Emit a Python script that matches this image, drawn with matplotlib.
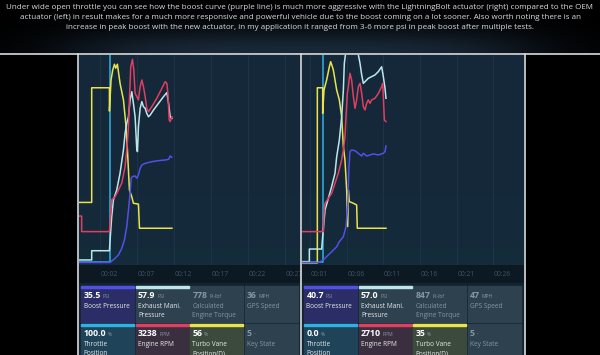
import numpy as np
import matplotlib
matplotlib.use("Agg")
import matplotlib.pyplot as plt
from matplotlib.patches import Rectangle

plt.rcParams['font.family'] = ['Open Sans', 'DejaVu Sans']

# --- caption ---
caption = ("Under wide open throttle you can see how the boost curve (purple line) is much more aggressive with the "
           "LightningBolt actuator (right) compared to the OEM\n"
           "actuator (left) in result makes for a much more responsive and powerful vehicle due to the boost coming "
           "on a lot sooner. Also worth noting there is an\n"
           "increase in peak boost with the new actuator, in my application it ranged from 3-6 more psi in peak "
           "boost after multiple tests.")

# --- left log (OEM actuator): time in s, value in % of graph height ---
L_vane_t = [-0.85, 0.87, 0.87, 3.27, 3.27, 3.49, 3.72, 3.95, 4.13, 4.35, 4.71, 5.17, 5.48, 5.71, 5.98, 6.30, 6.52, 7.20, 7.34, 11.73]
L_vane = [29.8, 29.8, 84.4, 84.4, 73.3, 88.1, 92.9, 95.6, 93.7, 95.6, 86.5, 78.6, 67.5, 54.8, 35.7, 32.5, 29.4, 29.0, 17.5, 17.5]

L_rpm_t = [-0.85, -0.49, -0.49, 3.27, 3.36, 3.58, 4.04, 4.49, 4.94, 5.39, 5.62, 5.85, 5.98, 6.16, 6.39, 6.57, 6.75, 6.98,
           7.20, 7.43, 7.66, 7.88, 8.11, 8.33, 8.56, 9.01, 9.69, 10.37, 10.82, 11.05, 11.19, 11.37, 11.50, 11.73]
L_rpm = [23.3, 23.3, 15.9, 15.9, 19.8, 31.0, 32.5, 35.7, 38.9, 46.8, 54.8, 65.9, 78.6, 94.4, 97.9, 92.9, 81.7, 80.2,
         78.6, 84.9, 88.1, 84.9, 80.2, 74.6, 73.0, 75.4, 79.4, 84.1, 87.3, 86.5, 81.7, 69.0, 68.3, 70.6]

L_emp_t = [-0.85, 0.87, 0.87, 3.27, 3.36, 3.58, 3.81, 4.26, 4.71, 5.17, 5.39, 5.62, 5.85, 6.07, 6.30, 6.52, 6.75, 6.98,
           7.07, 7.20, 7.43, 7.66, 7.88, 8.11, 8.33, 8.56, 8.79, 9.24, 9.92, 10.60, 11.05, 11.28, 11.50, 11.73]
L_emp = [2.4, 2.4, 6.8, 6.8, 11.9, 23.0, 31.0, 35.7, 43.7, 54.8, 62.7, 67.5, 70.6, 78.6, 82.5, 77.0, 70.6, 54.8,
         54.0, 65.9, 74.6, 77.8, 75.4, 74.6, 72.2, 70.6, 71.4, 73.8, 77.0, 80.2, 82.1, 77.0, 70.6, 69.8]

L_boost_t = [-0.85, 3.36, 4.04, 4.49, 4.94, 5.30, 5.62, 5.85, 6.07, 6.21, 6.39, 6.75, 6.98, 7.20, 7.43, 7.66, 8.11,
             9.01, 9.92, 10.82, 11.28, 11.50, 11.73]
L_boost = [1.2, 1.2, 3.2, 4.8, 7.9, 11.9, 18.3, 26.2, 34.1, 41.3, 42.1, 42.4, 41.3, 42.9, 46.0, 47.6, 48.4,
           49.2, 49.7, 50.0, 50.3, 51.9, 51.3]

L_tps_t = [-0.85, 3.36, 3.36, 11.73]
L_tps = [1.4, 1.4, 100.5, 100.5]

# --- right log (LightningBolt actuator) ---
R_vane_t = [-0.09, 2.0, 2.0, 2.73, 2.73, 2.91, 3.27, 3.64, 3.82, 4.05, 4.18, 4.64, 5.0, 5.32, 5.55, 5.77, 6.0, 6.14,
            6.23, 6.36, 6.91, 7.36, 7.45, 11.36]
R_vane = [1.0, 1.0, 84.4, 84.4, 72.2, 83.3, 88.1, 94.4, 96.8, 94.4, 92.9, 83.3, 78.6, 70.6, 56.3, 50.0, 35.7, 18.3,
          35.7, 30.2, 29.4, 28.6, 17.5, 17.5]

R_rpm_t = [-0.09, 2.82, 2.91, 3.05, 3.5, 3.95, 4.41, 4.86, 5.32, 5.55, 5.77, 5.91, 6.09, 6.23, 6.45, 6.68, 6.91, 7.14,
           7.36, 7.59, 7.82, 8.05, 8.27, 8.5, 8.73, 8.95, 9.18, 9.41, 9.86, 10.32, 10.77, 10.91, 11.0, 11.14, 11.36]
R_rpm = [15.9, 15.9, 24.6, 29.4, 31.7, 34.1, 38.9, 43.7, 50.0, 54.8, 61.1, 70.6, 81.7, 84.9, 91.3, 88.1, 80.2, 74.6,
         78.6, 84.9, 86.5, 81.7, 75.4, 73.8, 77.0, 78.6, 77.0, 78.6, 79.4, 81.7, 84.9, 86.5, 80.2, 69.0, 68.3]

R_emp_t = [-0.09, 0.91, 0.91, 2.59, 2.73, 3.05, 3.5, 3.95, 4.41, 4.64, 5.0, 5.32, 5.55, 5.68, 5.91, 7.36, 7.59, 7.82,
           8.05, 8.27, 8.5, 8.95, 9.41, 9.86, 10.32, 10.77, 11.0, 11.23, 11.36]
R_emp = [1.6, 1.6, 7.6, 7.6, 13.5, 26.2, 31.7, 37.3, 43.7, 51.6, 59.5, 70.6, 83.3, 96.0, 102.4, 102.4, 100.2, 96.0,
         90.5, 86.5, 87.3, 88.9, 89.7, 90.5, 92.1, 94.4, 89.7, 84.1, 79.4]

R_boost_t = [-0.09, 2.14, 2.82, 3.27, 3.95, 4.64, 5.0, 5.55, 5.91, 6.14, 6.32, 6.45, 6.68, 7.14, 7.59, 8.05, 8.27,
             8.73, 9.18, 9.64, 10.32, 11.0, 11.23, 11.36]
R_boost = [1.2, 1.2, 2.4, 4.0, 6.3, 8.7, 11.1, 13.5, 18.3, 27.8, 46.8, 54.0, 54.8, 54.4, 53.2, 51.9, 53.2,
           51.9, 52.4, 52.9, 52.4, 53.2, 54.0, 56.7]

R_tps_t = [-0.09, 2.82, 2.82, 11.36]
R_tps = [1.4, 1.4, 100.5, 100.5]

# tick seconds
L_ticks = [2, 7, 12, 17, 22, 27]
R_ticks = [1, 6, 11, 16, 21, 26]

# gauge tiles
tile_names = ["Boost Pressure", "Exhaust Mani.\nPressure", "Calculated\nEngine Torque", "GPS Speed",
              "Throttle\nPosition", "Engine RPM", "Turbo Vane\nPosition(D)", "Key State"]
tile_units = ["PSI", "PSI", "Ft-lbf", "MPH", "%", "RPM", "%", "-"]
L_tile_vals = ["35.5", "57.9", "778", "36", "100.0", "3238", "56", "5"]
R_tile_vals = ["40.7", "57.0", "847", "47", "0.0", "2710", "35", "5"]

# --- colours ---
C_BOOST = "#5151e6"
C_EMP = "#bde6ea"
C_RPM = "#df3f60"
C_VANE = "#e9e34c"
C_TPS = "#2eb2e2"
tile_bg = ["#2b2e66", "#2e414f", "#2e414f", "#2e414f", "#1f4359", "#3a2f3f", "#3c4a3d", "#2e414f"]
tile_bar = [C_BOOST, C_EMP, None, None, C_TPS, C_RPM, C_VANE, None]

W, H = 600, 355
fig = plt.figure(figsize=(6, 3.55), dpi=100, facecolor="black")

bg = fig.add_axes([0, 0, 1, 1])
bg.set_facecolor("black")
bg.axis("off")

# glow behind the caption
xx, yy = np.meshgrid(np.linspace(0, W, 300), np.linspace(0, 54, 60))
g = np.exp(-((xx - 300) / 240) ** 4) * np.exp(-((yy - 54) / 26) ** 2)
glow = np.zeros(g.shape + (3,))
glow[..., 0] = 0.10 * g
glow[..., 1] = 0.16 * g
glow[..., 2] = 0.22 * g
bg.imshow(glow, extent=(0, W, 54, 0), aspect="auto", zorder=0)
bg.set_xlim(0, W)
bg.set_ylim(H, 0)

bg.text(300, 17.5, caption, ha="center", va="center", color="#d8dadc", fontsize=5.8,
        linespacing=1.6, zorder=5)


def panel(x0, x1, series, ticks, vals, tmin, tmax):
    # strip and tile area
    bg.add_patch(Rectangle((x0, 265), x1 - x0, 18, color="#0c1822", zorder=1))
    bg.add_patch(Rectangle((x0, 283), x1 - x0, 80, color="#142330", zorder=1))
    for i in range(8):
        r, c = divmod(i, 4)
        tx = x0 + 2 + c * 54.5
        ty = 286 + r * 38
        bg.add_patch(Rectangle((tx, ty), 53, 36, color=tile_bg[i], zorder=2))
        if tile_bar[i]:
            bg.add_patch(Rectangle((tx, ty), 53, 1.6, color=tile_bar[i], zorder=3))
        grey = tile_bar[i] is None
        vcol = "#8796a2" if grey else "white"
        lcol = "#8796a2" if grey else "#e6e8ea"
        v = bg.text(tx + 2.5, ty + 9.5, vals[i], color=vcol, fontsize=6.3, fontweight="bold",
                    va="center", ha="left", zorder=4)
        bg.annotate(tile_units[i], xy=(1, 0.15), xycoords=v, xytext=(1.2, 0), textcoords="offset points",
                    color="#8a98a4", fontsize=3.6, va="bottom", ha="left", zorder=4)
        bg.text(tx + 2.5, ty + 17, tile_names[i], color=lcol, fontsize=4.7, va="top", ha="left",
                linespacing=1.45, zorder=4)

    ax = fig.add_axes([x0 / W, 1 - 265 / H, (x1 - x0) / W, 210 / H])
    ax.set_facecolor("#13283a")
    grad = np.linspace(0, 1, 50)[:, None] ** 3
    ax.imshow(np.dstack([0.09 + 0 * grad, 0.19 * grad + 0.16 * (1 - grad), 0.24 * grad + 0.23 * (1 - grad)]),
              extent=(tmin, tmax, 0, 100), aspect="auto", origin="upper", zorder=0, alpha=0.5)
    for t in ticks:
        ax.axvline(t, color="#1d3547", lw=0.7, zorder=1)
        ax.text(t + 0.1, -0.045, "00:%02d" % t, transform=ax.get_xaxis_transform(), color="#3e5467",
                fontsize=4.9, ha="left", va="center", clip_on=False)
    for t, v, col in series:
        ax.plot(t, v, color=col, lw=1.1, solid_joinstyle="round", zorder=3)
    ax.set_xlim(tmin, tmax)
    ax.set_ylim(0, 100)
    ax.set_xticks([])
    ax.set_yticks([])
    for s in ax.spines.values():
        s.set_visible(False)
    return ax


panel(79, 300.5,
      [(L_tps_t, L_tps, C_TPS), (L_vane_t, L_vane, C_VANE), (L_emp_t, L_emp, C_EMP),
       (L_rpm_t, L_rpm, C_RPM), (L_boost_t, L_boost, C_BOOST)],
      L_ticks, L_tile_vals, -0.85, 29.15)
panel(302, 524,
      [(R_tps_t, R_tps, C_TPS), (R_vane_t, R_vane, C_VANE), (R_emp_t, R_emp, C_EMP),
       (R_rpm_t, R_rpm, C_RPM), (R_boost_t, R_boost, C_BOOST)],
      R_ticks, R_tile_vals, -0.09, 30.18)

# white frame lines on top
top = fig.add_axes([0, 0, 1, 1])
top.patch.set_alpha(0)
top.axis("off")
top.set_xlim(0, W)
top.set_ylim(H, 0)
top.plot([0, W], [54, 54], color="#d9dcdf", lw=1.2)
for x in (78, 301, 524.5):
    top.plot([x, x], [54, H], color="#d9dcdf", lw=1.2)

fig.savefig("out.png", dpi=100, facecolor="black")
